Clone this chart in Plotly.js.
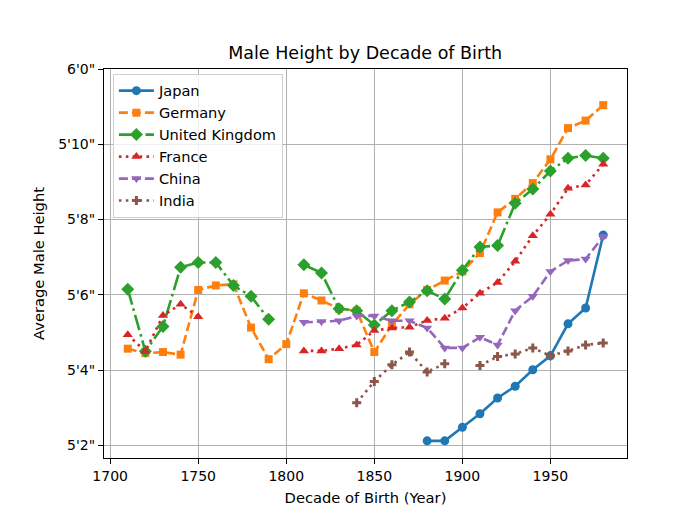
<!DOCTYPE html>
<html>
<head>
<meta charset="utf-8">
<script src="https://cdn.plot.ly/plotly-3.0.1.min.js"></script>
<style>
  html, body { margin: 0; padding: 0; background: #fff; }
  #chart { width: 680px; height: 518px; }
</style>
</head>
<body>
<div id="chart"></div>
<script>
// ===== Datos (pulgadas) =====
const decades = [1710, 1720, 1730, 1740, 1750, 1760, 1770, 1780, 1790, 1800,
                 1810, 1820, 1830, 1840, 1850, 1860, 1870, 1880, 1890, 1900,
                 1910, 1920, 1930, 1940, 1950, 1960, 1970, 1980];

const japan = [null, null, null, null, null, null, null, null, null, null,
               null, null, null, null, null, null, null, 62.12, 62.12, 62.48,
               62.84, 63.26, 63.57, 64.01, 64.38, 65.23, 65.65, 67.59];

const germany = [64.57, 64.45, 64.48, 64.41, 66.13, 66.25, 66.28, 65.13, 64.29, 64.69,
                 66.04, 65.85, 65.63, 65.58, 64.48, 65.2, 65.75, 66.13, 66.38, 66.62,
                 67.11, 68.19, 68.55, 68.97, 69.6, 70.43, 70.63, 71.04];

const uk = [66.15, 64.5, 65.16, 66.73, 66.86, 66.86, 66.25, 65.96, 65.35, null,
            66.8, 66.58, 65.63, 65.58, 65.2, 65.58, 65.81, 66.11, 65.89, 66.65,
            67.27, 67.31, 68.43, 68.81, 69.29, 69.63, 69.7, 69.63];

const france = [64.94, 64.5, 65.45, 65.75, 65.42, null, null, null, null, null,
                64.51, 64.51, 64.57, 64.67, 65.05, 65.12, 65.14, 65.32, 65.38, 65.65,
                66.04, 66.33, 66.89, 67.57, 68.14, 68.83, 68.92, 69.47];

const china = [null, null, null, null, null, null, null, null, null, null,
               65.27, 65.29, 65.31, 65.44, 65.44, 65.31, 65.31, 65.12, 64.59, 64.59,
               64.87, 64.67, 65.58, 65.96, 66.62, 66.91, 66.95, 67.55];

const india = [null, null, null, null, null, null, null, null, null, null,
               null, null, null, 63.13, 63.7, 64.14, 64.48, 63.95, 64.17, null,
               64.12, 64.36, 64.43, 64.59, 64.38, 64.51, 64.67, 64.72];

const yTickVals = [62, 64, 66, 68, 70, 72];
const yTickText = ['5\'2"', '5\'4"', '5\'6"', '5\'8"', '5\'10"', '6\'0"'];

const FONT = 'DejaVu Sans, sans-serif';
const LW = 2.6;

function serie(name, y, color, dash, symbol, size) {
  return {
    type: 'scatter',
    mode: 'lines+markers',
    name: name,
    x: decades,
    y: y,
    line: { color: color, width: LW, dash: dash },
    marker: { color: color, symbol: symbol, size: size },
  };
}

const traces = [
  serie('Japan', japan, '#1f77b4', 'solid', 'circle', 9),
  serie('Germany', germany, '#ff7f0e', '9px,4px', 'square', 8),
  serie('United Kingdom', uk, '#2ca02c', '16px,4px,2.6px,4px', 'diamond', 10),
  serie('France', france, '#d62728', '2.6px,4.3px', 'triangle-up', 9),
  serie('China', china, '#9467bd', '9px,4px', 'triangle-down', 9),
  serie('India', india, '#8c564b', '2.6px,4.3px', 'cross', 7.5),
];

const AXIS = {
  showline: true, mirror: true, linecolor: '#000', linewidth: 1,
  ticks: 'outside', ticklen: 5, tickwidth: 1, tickcolor: '#000',
  showgrid: true, gridcolor: '#b0b0b0', gridwidth: 1,
  zeroline: false,
  tickfont: { family: FONT, size: 14, color: '#000' },
};

const layout = {
  width: 680, height: 518,
  paper_bgcolor: '#fff', plot_bgcolor: '#fff',
  font: { family: FONT, color: '#000', size: 14 },
  margin: { l: 104, r: 53, t: 69, b: 60 },
  title: { text: 'Male Height by Decade of Birth', font: { family: FONT, size: 17.5 },
           x: 0.537, xanchor: 'center', y: 0.897, yanchor: 'middle' },
  xaxis: {
    ...AXIS,
    range: [1696.5, 1993.5],
    tick0: 1700, dtick: 50,
    title: { text: 'Decade of Birth (Year)', font: { family: FONT, size: 14.7 }, standoff: 9 },
  },
  yaxis: {
    ...AXIS,
    range: [61.665, 72.0],
    tickvals: yTickVals, ticktext: yTickText,
    title: { text: 'Average Male Height', font: { family: FONT, size: 14.7 }, standoff: 10 },
  },
  showlegend: true,
  legend: {
    x: 0.017, xanchor: 'left', y: 0.988, yanchor: 'top',
    itemwidth: 35,
    bgcolor: 'rgba(255,255,255,0.8)', bordercolor: '#d0d0d0', borderwidth: 1,
    font: { family: FONT, size: 14.6, color: '#000' },
  },
};

Plotly.newPlot('chart', traces, layout, { displayModeBar: false, responsive: false });
</script>
</body>
</html>
